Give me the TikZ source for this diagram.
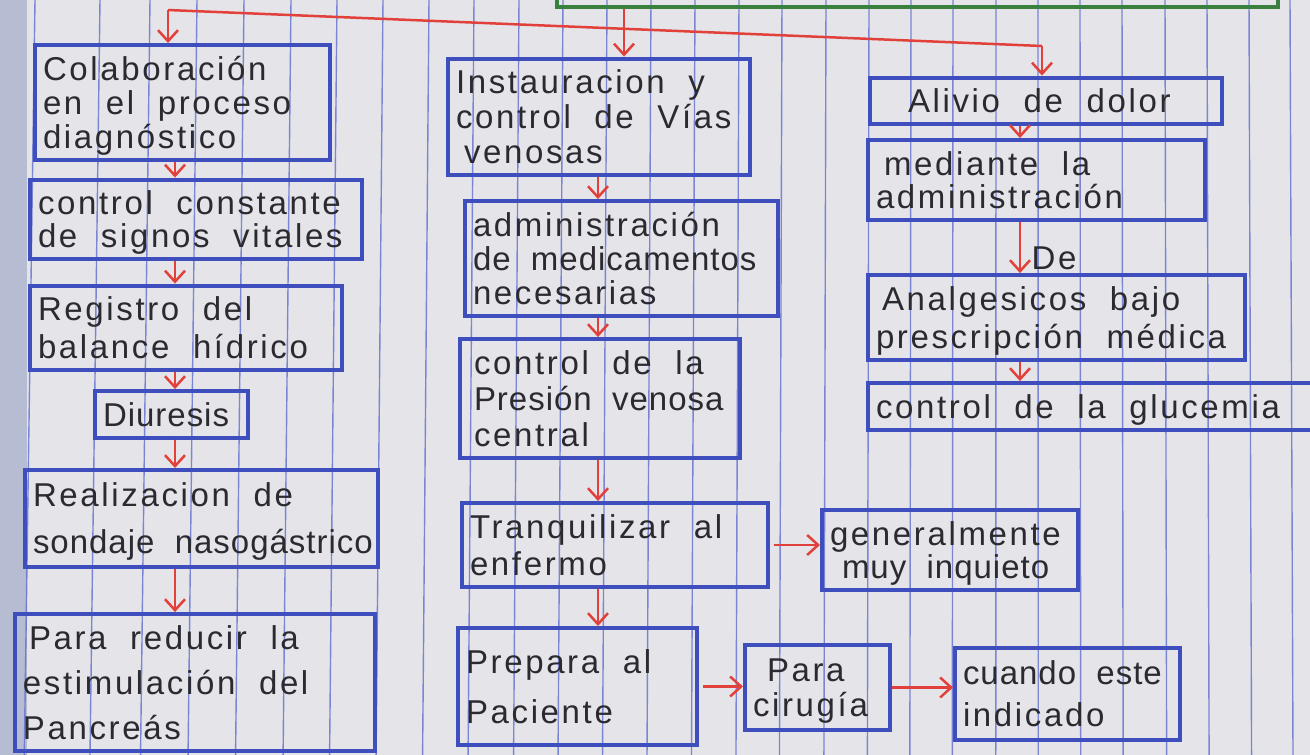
\documentclass[tikz,border=0pt]{standalone}
\usepackage{fontspec}
\setmainfont{Liberation Sans}[LetterSpace=8,WordSpace=2]
\usetikzlibrary{arrows.meta,calc}
\definecolor{paper}{RGB}{229,229,233}
\definecolor{rulec}{RGB}{95,110,208}
\definecolor{marginc}{RGB}{182,188,210}
\definecolor{pen}{RGB}{62,78,188}
\definecolor{ink}{RGB}{42,42,48}
\definecolor{redpen}{RGB}{226,64,58}
\definecolor{greenpen}{RGB}{58,128,62}
\tikzset{
  bx/.style={draw=pen, line width=4pt, rectangle, inner xsep=8pt, inner ysep=2pt,
    text=ink},
  arr/.style={draw=redpen, line width=2.5pt,
    -{Straight Barb[length=11pt,width=20pt,line width=2.5pt]}},
  redline/.style={draw=redpen, line width=2.5pt},
  lbl/.style={text=ink, font=\fontsize{33}{36}\selectfont},
}
\newcommand\myline[1]{\hbox{\vrule height 1em depth .3em width 0pt\relax #1}}
\newcommand\tight[1]{{\addfontfeature{LetterSpace=3}#1}}
% name, baselineskip, x1, y1, x2, y2, lines
\newcommand\mybox[7]{%
  \pgfmathsetmacro\bw{#5-#3}\pgfmathsetmacro\bh{#6-#4}\pgfmathsetmacro\tw{#5-#3-16}%
  \node[bx, minimum width=\bw pt, minimum height=\bh pt,
    font=\fontsize{33}{#2}\selectfont] (#1) at ({(#3+#5)/2},{(#4+#6)/2})
    {\makebox[\tw pt][l]{\vbox{\baselineskip=#2pt\lineskiplimit=-100pt\lineskip=0pt #7}}};}
\begin{document}
\begin{tikzpicture}[x=1pt,y=-1pt]
\useasboundingbox (0,0) rectangle (1310,755);
\clip (0,0) rectangle (1310,755);
\fill[paper] (0,0) rectangle (1310,755);
\fill[marginc] (0,0) rectangle (27,755);
% ruled paper lines
\foreach \t in {35,100,150,197,244,291,337,383,429,474,519,563,607,651,695,739,782,826,869,911,953,996,1038,1080,1122,1165,1207,1249,1290}{
  \pgfmathsetmacro\bb{\t-10+(\t-100)*0.01092}
  \draw[rulec, line width=1.4pt, opacity=0.8] (\t,0) -- (\bb,755);
}
% partial top box
\node[draw=greenpen, line width=4pt, minimum width=721pt, minimum height=80pt] (top) at (917.5,-33) {};
% left column
\mybox{B1}{34}{35}{45}{330}{160}{\myline{Colaboración}\myline{en el proceso}\myline{diagnóstico}}
\mybox{B2}{33}{30}{183}{362}{256}{\myline{control constante}\myline{de signos vitales}}
\mybox{B3}{38}{30}{288}{342}{368}{\myline{Registro del}\myline{balance hídrico}}
\mybox{B4}{28}{95}{397}{248}{432}{\myline{\tight{Diuresis}}}
\mybox{B5}{47}{25}{470}{378}{567}{\myline{Realizacion de}\myline{\tight{sondaje nasogástrico}}}
\mybox{B6}{45}{15}{615}{375}{750}{\myline{\hspace*{6pt}Para reducir la}\myline{estimulación del}\myline{Pancreás}}
% middle column
\mybox{B7}{35}{448}{62}{750}{172}{\myline{Instauracion y}\myline{control de Vías}\myline{\hspace*{8pt}venosas}}
\mybox{B8}{34}{465}{205}{778}{312}{\myline{administración}\myline{\tight{de medicamentos}}\myline{necesarias}}
\mybox{B9}{36}{460}{345}{740}{452}{\myline{\hspace*{6pt}control de la}\myline{\hspace*{6pt}\tight{Presión venosa}}\myline{\hspace*{6pt}central}}
\mybox{B10}{37}{462}{505}{768}{585}{\myline{Tranquilizar al}\myline{enfermo}}
\mybox{B11}{33}{822}{510}{1078}{590}{\myline{generalmente}\myline{\hspace*{12pt}\tight{muy inquieto}}}
\mybox{B12}{50}{458}{628}{697}{745}{\myline{Prepara al}\myline{Paciente}}
\mybox{B13}{35}{745}{645}{890}{730}{\myline{\hspace*{14pt}Para}\myline{cirugía}}
\mybox{B14}{42}{955}{648}{1180}{740}{\myline{\tight{cuando este}}\myline{indicado}}
% right column
\mybox{B15}{28}{870}{80}{1222}{122}{\myline{\hspace*{30pt}Alivio de dolor}}
\mybox{B16}{33}{868}{145}{1205}{215}{\myline{\hspace*{8pt}mediante la}\myline{administración}}
\mybox{B17}{38}{868}{280}{1245}{355}{\myline{\hspace*{6pt}Analgesicos bajo}\myline{prescripción médica}}
\mybox{B18}{28}{868}{385}{1330}{428}{\myline{control de la glucemia}}
\node[lbl] (de) at (1054,258) {De};
% connector axes
\coordinate (j1) at (168,10);
\coordinate (j2) at (1042,46);
\coordinate (axC) at (624,0);
\coordinate (axL) at (175,0);
\coordinate (axM) at (598,0);
\coordinate (axR) at (1020,0);
% top connectors
\draw[redline] (j1) -- (j2);
\draw[arr] (j1) -- (j1 |- B1.north);
\draw[arr] (top.south -| axC) -- (B7.north -| axC);
\draw[arr] (j2) -- (j2 |- B15.north);
% left column arrows
\draw[arr] (B1.south -| axL) -- (B2.north -| axL);
\draw[arr] (B2.south -| axL) -- (B3.north -| axL);
\draw[arr] (B3.south -| axL) -- (B4.north -| axL);
\draw[arr] (B4.south -| axL) -- (B5.north -| axL);
\draw[arr] (B5.south -| axL) -- (B6.north -| axL);
% middle column arrows
\draw[arr] (B7.south -| axM) -- (B8.north -| axM);
\draw[arr] (B8.south -| axM) -- (B9.north -| axM);
\draw[arr] (B9.south -| axM) -- (B10.north -| axM);
\draw[arr] (B10.south -| axM) -- (B12.north -| axM);
\draw[arr, shorten <=4pt] (B10.east) -- (B10.east -| B11.west);
\draw[arr, shorten <=4pt] (B12.east) -- (B12.east -| B13.west);
\draw[arr] (B13.east) -- (B13.east -| B14.west);
% right column arrows
\draw[arr] (B15.south -| axR) -- (B16.north -| axR);
\draw[arr] (B16.south -| axR) -- (B17.north -| axR);
\draw[arr] (B17.south -| axR) -- (B18.north -| axR);
\end{tikzpicture}
\end{document}
